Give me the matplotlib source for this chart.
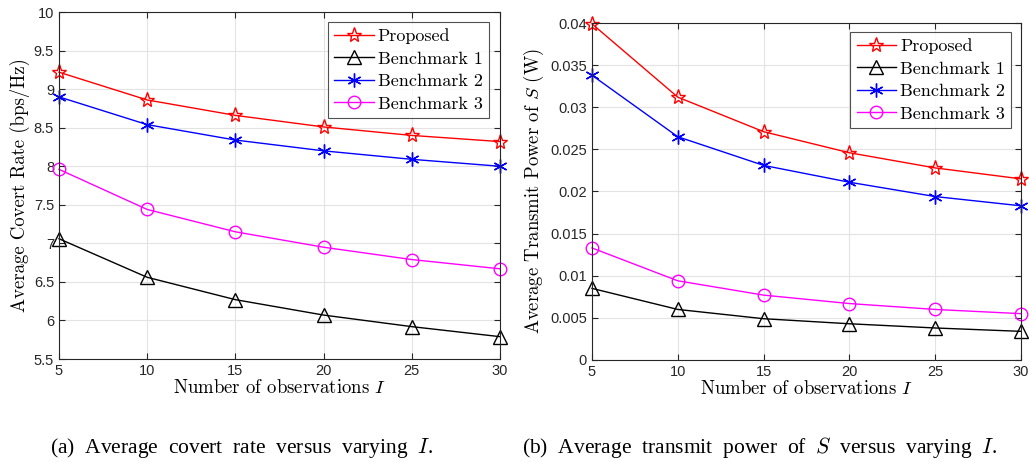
import numpy as np
import matplotlib
matplotlib.use("Agg")
import matplotlib.pyplot as plt

# data
I_obs = [5, 10, 15, 20, 25, 30]

rate_proposed = [9.22, 8.86, 8.66, 8.51, 8.40, 8.32]
rate_bench1 = [7.06, 6.56, 6.27, 6.07, 5.92, 5.79]
rate_bench2 = [8.90, 8.54, 8.34, 8.20, 8.09, 8.00]
rate_bench3 = [7.96, 7.44, 7.15, 6.95, 6.79, 6.67]

pow_proposed = [0.0399, 0.0312, 0.0271, 0.0246, 0.0228, 0.0215]
pow_bench1 = [0.0085, 0.0060, 0.0049, 0.0043, 0.0038, 0.0034]
pow_bench2 = [0.0338, 0.0265, 0.0231, 0.0211, 0.0194, 0.0183]
pow_bench3 = [0.0133, 0.0094, 0.0077, 0.0067, 0.0060, 0.0055]

labels = ['Proposed', 'Benchmark 1', 'Benchmark 2', 'Benchmark 3']

plt.rcParams['mathtext.fontset'] = 'cm'
plt.rcParams['axes.unicode_minus'] = False

tick_font = 'Liberation Sans'
lab_font = 'cmr10'

styles = [
    dict(color='red', marker='*', ms=11, mfc='none', mew=1.0),
    dict(color='black', marker='^', ms=10, mfc='none', mew=1.0),
    dict(color='blue', marker=(6, 2, 0), ms=10, mew=1.0),
    dict(color='magenta', marker='o', ms=9, mfc='none', mew=1.0),
]


def setup(ax, yticks, ylim, yfmt):
    ax.set_xlim(5, 30)
    ax.set_ylim(*ylim)
    ax.set_xticks(I_obs)
    ax.set_yticks(yticks)
    ax.set_yticklabels([yfmt(v) for v in yticks])
    ax.grid(True, color='#e3e3e3', linewidth=0.8)
    ax.set_axisbelow(True)
    ax.tick_params(direction='in', top=True, right=True, length=4,
                   labelsize=10.5, colors='#262626')
    for t in ax.get_xticklabels() + ax.get_yticklabels():
        t.set_fontfamily(tick_font)
    for s in ax.spines.values():
        s.set_color('#262626')
        s.set_linewidth(0.8)


def add_legend(ax, anchor):
    leg = ax.legend(loc='upper right', bbox_to_anchor=anchor, borderaxespad=0,
                    fancybox=False, edgecolor='#262626',
                    prop={'family': lab_font, 'size': 13},
                    handlelength=2.2, borderpad=0.35, labelspacing=0.38,
                    handletextpad=0.2)
    leg.get_frame().set_linewidth(0.8)


fig = plt.figure(figsize=(10.29, 4.62), dpi=100)

# (a) covert rate
ax1 = fig.add_axes([0.0573, 0.2229, 0.4286, 0.751])
for y, lab, st in zip([rate_proposed, rate_bench1, rate_bench2, rate_bench3], labels, styles):
    ax1.plot(I_obs, y, lw=1.0, label=lab, clip_on=False, **st)
setup(ax1, np.arange(5.5, 10.01, 0.5), (5.5, 10),
      lambda v: ('%g' % v))
ax1.set_xlabel('Number of observations $I$', fontfamily=lab_font, fontsize=13.5, labelpad=1)
ax1.set_ylabel('Average Covert Rate (bps/Hz)', fontfamily=lab_font, fontsize=13.5, labelpad=3)
add_legend(ax1, (0.975, 0.971))

# (b) transmit power
ax2 = fig.add_axes([0.5753, 0.2208, 0.4169, 0.7294])
for y, lab, st in zip([pow_proposed, pow_bench1, pow_bench2, pow_bench3], labels, styles):
    ax2.plot(I_obs, y, lw=1.0, label=lab, clip_on=False, **st)
setup(ax2, np.arange(0, 0.0401, 0.005), (0, 0.04),
      lambda v: ('0' if v == 0 else ('%.3f' % v).rstrip('0')))
ax2.set_xlabel('Number of observations $I$', fontfamily=lab_font, fontsize=13.5, labelpad=1)
ax2.set_ylabel('Average Transmit Power of $S$ (W)', fontfamily=lab_font, fontsize=13.5, labelpad=3)
add_legend(ax2, (0.977, 0.973))

# captions
fig.text(0.0486, 0.02, '(a)  Average  covert  rate  versus  varying  $I$.',
         fontfamily='Liberation Serif', fontsize=15.5, ha='left')
fig.text(0.507, 0.02, '(b)  Average  transmit  power  of  $S$  versus  varying  $I$.',
         fontfamily='Liberation Serif', fontsize=15.5, ha='left')

fig.savefig('out.png', dpi=100)
